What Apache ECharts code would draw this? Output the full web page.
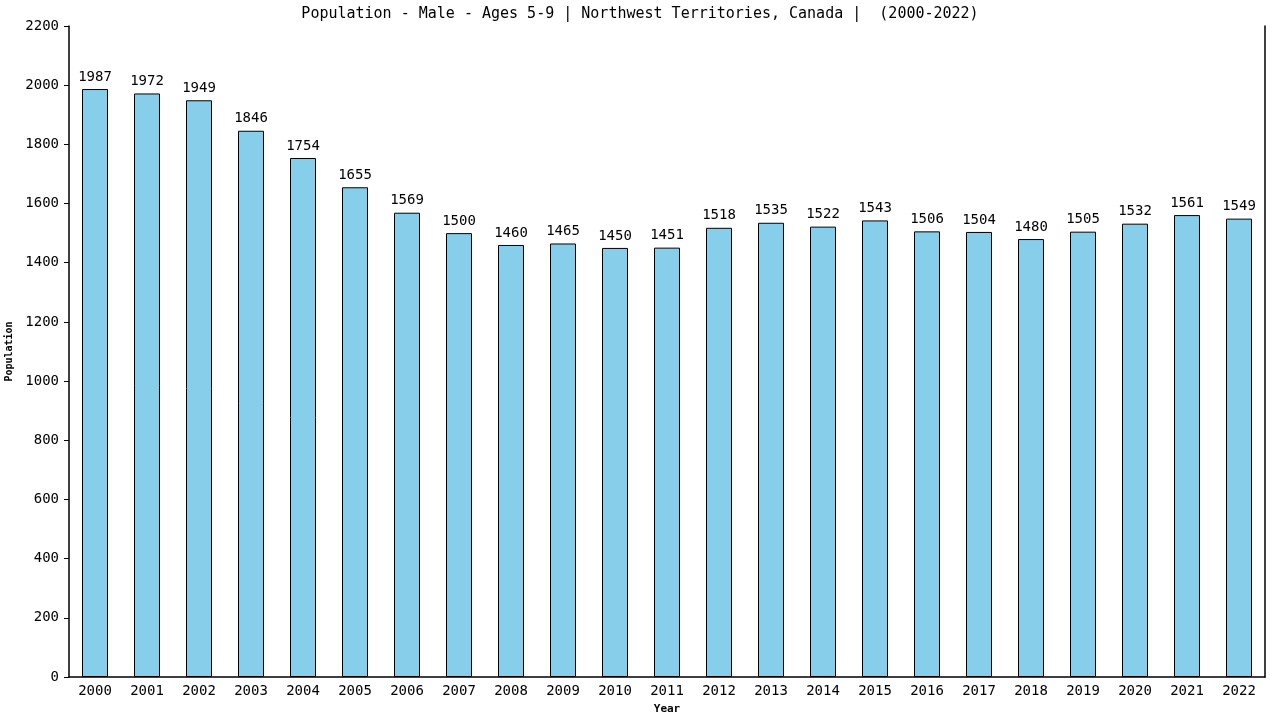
<!DOCTYPE html>
<html><head><meta charset="utf-8">
<script src="https://cdn.jsdelivr.net/npm/echarts@6/dist/echarts.min.js"></script>
<style>html,body{margin:0;padding:0;background:#fff}#c{width:1280px;height:720px}</style>
</head><body><div id="c"></div>
<script>
var years = ['2000','2001','2002','2003','2004','2005','2006','2007','2008','2009','2010','2011','2012','2013','2014','2015','2016','2017','2018','2019','2020','2021','2022'];
var population = [1987,1972,1949,1846,1754,1655,1569,1500,1460,1465,1450,1451,1518,1535,1522,1543,1506,1504,1480,1505,1532,1561,1549];
var titleText = 'Population - Male - Ages 5-9 | Northwest Territories, Canada |  (2000-2022)';
var font = 'DejaVu Sans Mono';
var chart = echarts.init(document.getElementById('c'));
chart.setOption({
  animation: false,
  backgroundColor: '#fff',
  textStyle: {fontFamily: font, color: '#000'},
  title: {text: titleText, left: 'center', top: 2,
    textStyle: {fontFamily: font, fontSize: 15, fontWeight: 'normal', color: '#000'}},
  grid: {left: 69, right: 15, top: 26, bottom: 43, outerBoundsMode: 'none', containLabel: false},
  xAxis: {type: 'category', data: years, name: 'Year', nameLocation: 'middle', nameGap: 27,
    nameTextStyle: {fontFamily: font, fontSize: 11, fontWeight: 'bold', color: '#000'},
    axisLine: {lineStyle: {color: '#000', width: 1.5}}, axisTick: {show: false},
    axisLabel: {fontFamily: font, fontSize: 14, color: '#000', margin: 7, interval: 0}},
  yAxis: [{type: 'value', min: 0, max: 2200, interval: 200, name: 'Population', nameLocation: 'middle', nameGap: 52,
    nameTextStyle: {fontFamily: font, fontSize: 10, fontWeight: 'bold', color: '#000'},
    axisLine: {show: true, lineStyle: {color: '#000', width: 1.5}},
    axisTick: {show: true, length: 5, lineStyle: {color: '#000'}},
    splitLine: {show: false},
    axisLabel: {fontFamily: font, fontSize: 14, color: '#000', margin: 10, formatter: function (v) { return String(v); }}},
   {type: 'value', min: 0, max: 2200, position: 'right',
    axisLine: {show: true, lineStyle: {color: '#000', width: 1.5}},
    axisTick: {show: false}, axisLabel: {show: false}, splitLine: {show: false}}],
  series: [{type: 'bar', data: population, barWidth: '50%',
    itemStyle: {color: '#87ceeb', borderColor: '#000', borderWidth: 1},
    label: {show: true, position: 'top', distance: 5, fontFamily: font, fontSize: 14, color: '#000'}}]
});
</script></body></html>
